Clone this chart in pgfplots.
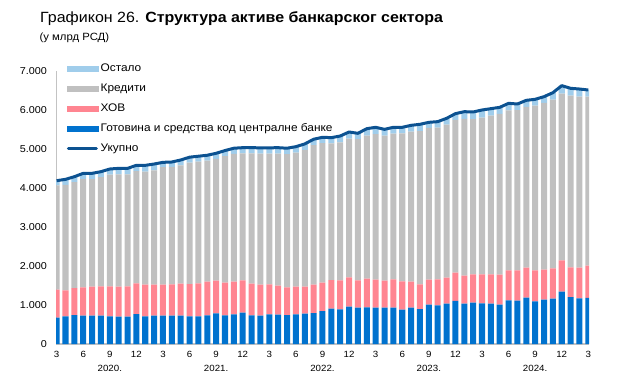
\documentclass[border=0pt]{standalone}
\usepackage{fontspec}
\setmainfont{Liberation Sans}[FakeStretch=1.08]
\usepackage{pgfplots}
\pgfplotsset{compat=1.18}
\usepackage{pgfplotstable}

\definecolor{cash}{RGB}{0,114,206}
\definecolor{hov}{RGB}{255,133,145}
\definecolor{loans}{RGB}{192,192,192}
\definecolor{other}{RGB}{160,205,235}
\definecolor{total}{RGB}{12,82,145}
\definecolor{axisgray}{RGB}{195,195,195}

\pgfplotstableread{
i cash hov loans other total
0 674 718 2676 120 4188
1 710 666 2706 140 4222
2 743 693 2714 140 4290
3 727 726 2773 150 4376
4 727 743 2756 150 4376
5 727 752 2800 140 4419
6 710 769 2863 145 4487
7 701 769 2879 155 4504
8 701 778 2870 155 4504
9 769 786 2881 145 4581
10 710 811 2900 160 4581
11 727 794 2929 165 4615
12 727 794 3017 120 4658
13 727 803 3012 125 4667
14 727 820 3036 135 4718
15 710 828 3112 140 4790
16 710 845 3120 140 4815
17 735 863 3102 140 4840
18 786 838 3126 140 4890
19 735 838 3242 145 4960
20 761 837 3277 145 5020
21 803 829 3257 145 5034
22 735 812 3342 145 5034
23 727 794 3359 150 5030
24 761 769 3350 150 5030
25 752 744 3388 150 5034
26 743 710 3417 150 5020
27 761 709 3440 150 5060
28 778 692 3510 150 5130
29 795 726 3579 150 5250
30 842 735 3573 150 5300
31 906 735 3505 145 5291
32 889 743 3541 160 5333
33 957 752 3557 170 5436
34 932 700 3620 150 5402
35 940 735 3666 180 5521
36 932 718 3731 175 5556
37 932 692 3720 160 5504
38 932 726 3738 160 5556
39 880 727 3794 155 5556
40 932 666 3849 160 5607
41 897 633 3928 175 5633
42 1009 641 3894 140 5684
43 991 667 3888 155 5701
44 1034 667 3925 160 5786
45 1107 722 3917 160 5906
46 1034 718 4020 185 5957
47 1060 726 3983 180 5949
48 1043 743 4019 195 6000
49 1034 752 4068 180 6034
50 1009 769 4120 170 6068
51 1120 769 4102 180 6171
52 1111 778 4105 160 6154
53 1188 769 4121 170 6248
54 1094 795 4225 160 6274
55 1137 769 4276 160 6342
56 1162 778 4324 180 6444
57 1342 803 4274 205 6624
58 1205 761 4400 190 6556
59 1171 786 4386 195 6538
60 1180 828 4335 170 6513
}\data

\pgfplotsset{
  common/.style={
    at={(56.2pt,32pt)}, anchor=south west,
    scale only axis, width=533pt, height=273pt,
    xmin=-0.05, xmax=60.1, ymin=0, ymax=7000,
  }
}

\begin{document}
\begin{tikzpicture}[x=1pt,y=1pt]
\path[use as bounding box] (0,0) rectangle (617,376);
\node[anchor=base west, inner sep=0pt, font=\fontsize{14.8}{17}\selectfont] at (40,353.7)
  {Графикон 26. \textbf{Структура активе банкарског сектора}};
\node[anchor=base west, inner sep=0pt, font=\fontsize{10.5}{12}\selectfont] at (39.3,336)
  {(у млрд РСД)};

\begin{axis}[common,
  ybar stacked, bar width=0.68,
  axis x line*=bottom, axis y line*=left,
  x axis line style={draw=axisgray, line width=1.5pt, -},
  y axis line style={draw=axisgray, line width=0.8pt, -},
  major tick length=0pt,
  xtick={0,3,...,60},
  xticklabels={3,6,{9\\2020.},12,3,6,{9\\2021.},12,3,6,{9\\2022.},12,3,6,{9\\2023.},12,3,6,{9\\2024.},12,3},
  xticklabel style={align=center, inner sep=0pt, yshift=-7pt, font=\fontsize{9}{14}\selectfont},
  ytick={0,1000,...,7000},
  yticklabel style={inner sep=0pt, xshift=-9pt, font=\fontsize{10}{11}\selectfont},
  /pgf/number format/.cd, 1000 sep={.}, assume math mode=true, /pgfplots/.cd,
  legend style={draw=none, fill=none, at={(0,1)}, anchor=north west,
    xshift=10.3pt, yshift=7.7pt, inner sep=0pt, row sep=10pt,
    font=\fontsize{11}{12}\selectfont,
    nodes={inner xsep=2.5pt, inner ysep=0pt, text height=8pt, text depth=2pt}},
  legend cell align=left,
]
\addplot[fill=cash, draw=none, forget plot] table[x=i, y=cash]{\data};
\addplot[fill=hov, draw=none, forget plot] table[x=i, y=hov]{\data};
\addplot[fill=loans, draw=none, forget plot] table[x=i, y=loans]{\data};
\addplot[fill=other, draw=none, forget plot] table[x=i, y=other]{\data};
\addlegendimage{legend image code/.code={\fill[other] (0pt,-2.5pt) rectangle (31pt,2.5pt);}}
\addlegendentry{Остало}
\addlegendimage{legend image code/.code={\fill[loans] (0pt,-2.5pt) rectangle (31pt,2.5pt);}}
\addlegendentry{Кредити}
\addlegendimage{legend image code/.code={\fill[hov] (0pt,-2.5pt) rectangle (31pt,2.5pt);}}
\addlegendentry{ХОВ}
\addlegendimage{legend image code/.code={\fill[cash] (0pt,-2.5pt) rectangle (31pt,2.5pt);}}
\addlegendentry{Готовина и средства код централне банке}
\addlegendimage{legend image code/.code={\draw[total, line width=3pt, line cap=round] (1.5pt,0pt) -- (29.5pt,0pt);}}
\addlegendentry{Укупно}
\end{axis}

\begin{axis}[common, hide axis]
\addplot[total, line width=3pt, line join=round, mark=none] table[x=i, y=total]{\data};
\end{axis}
\end{tikzpicture}
\end{document}
